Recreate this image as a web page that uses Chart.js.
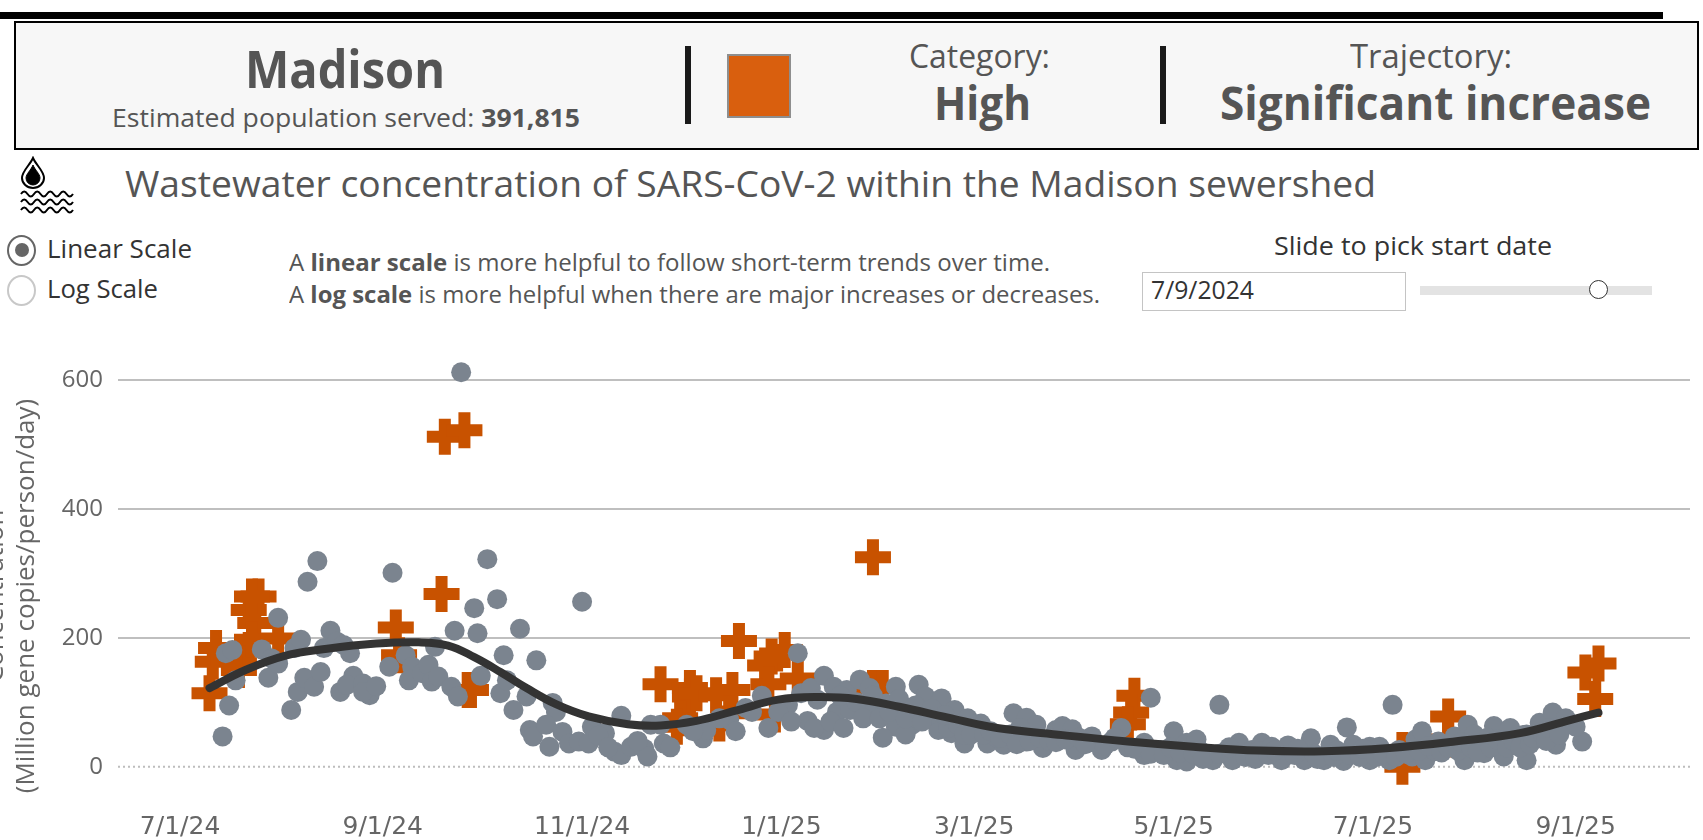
<!DOCTYPE html>
<html><head><meta charset="utf-8">
<script src="https://cdn.jsdelivr.net/npm/chart.js@4"></script>
<style>
html,body{margin:0;padding:0;background:#fff;width:1703px;height:840px;overflow:hidden;position:relative;font-family:"Open Sans",sans-serif}
.b{position:absolute}
.t{position:absolute;white-space:nowrap;line-height:1;transform-origin:0 0;color:#555}
canvas{position:absolute;left:-60px;top:340px}
</style></head><body>
<div class="b" style="left:0;top:12px;width:1663px;height:7px;background:#000"></div>
<div class="b" style="left:14px;top:21px;width:1681px;height:125px;background:#f7f7f7;border:2px solid #000"></div>
<div class="b" style="left:685px;top:46px;width:6px;height:78px;background:#1a1a1a"></div>
<div class="b" style="left:1160px;top:46px;width:6px;height:78px;background:#1a1a1a"></div>
<div class="b" style="left:727px;top:54px;width:60px;height:60px;background:#d95f0e;border:2px solid #8e8e8e"></div>
<div class="t" data-x="245" data-y="88" data-s="52" data-w="200" style="font-weight:700">Madison</div>
<div class="t" data-x="112" data-y="127" data-s="25" data-w="468">Estimated population served: <b>391,815</b></div>
<div class="t" data-x="909" data-y="68" data-s="32" data-w="141">Category:</div>
<div class="t" data-x="934" data-y="121" data-s="47" data-w="97" style="font-weight:700">High</div>
<div class="t" data-x="1350" data-y="68" data-s="32" data-w="162">Trajectory:</div>
<div class="t" data-x="1220" data-y="121" data-s="47" data-w="431" style="font-weight:700">Significant increase</div>
<div class="t" data-x="125" data-y="197" data-s="37" data-w="1251">Wastewater concentration of SARS-CoV-2 within the Madison sewershed</div>
<svg class="b" style="left:18px;top:156px" width="60" height="60" viewBox="0 0 60 60" fill="none" stroke="#000">
<path d="M15 2 C12 9 4 15 4 22 A11 10 0 0 0 26 22 C26 15 18 9 15 2Z" stroke-width="2"/>
<path d="M15 9 C13 14 8 18 8 22 A7 7 0 0 0 22 22 C22 18 17 14 15 9Z" fill="#000"/>
<path d="M3 38 q3.2 -5 6.5 0 t6.5 0 t6.5 0 t6.5 0 t6.5 0 t6.5 0 t6.5 0 t6.5 0" stroke-width="2"/>
<path d="M3 46 q3.2 -5 6.5 0 t6.5 0 t6.5 0 t6.5 0 t6.5 0 t6.5 0 t6.5 0 t6.5 0" stroke-width="2"/>
<path d="M3 54 q3.2 -5 6.5 0 t6.5 0 t6.5 0 t6.5 0 t6.5 0 t6.5 0 t6.5 0 t6.5 0" stroke-width="2"/>
</svg>
<div class="b" style="left:7px;top:235px;width:25px;height:27px;border:2.5px solid #666;border-radius:50%"></div>
<div class="b" style="left:15px;top:243px;width:14px;height:14px;background:#666;border-radius:50%"></div>
<div class="b" style="left:7px;top:275px;width:25px;height:27px;border:2.5px solid #c8c8c8;border-radius:50%"></div>
<div class="t" data-x="47" data-y="258" data-s="26" data-w="145" style="color:#333">Linear Scale</div>
<div class="t" data-x="47" data-y="298" data-s="26" data-w="111" style="color:#333">Log Scale</div>
<div class="t" data-x="289" data-y="271" data-s="23" data-w="761">A <b>linear scale</b> is more helpful to follow short-term trends over time.</div>
<div class="t" data-x="289" data-y="303" data-s="23" data-w="811">A <b>log scale</b> is more helpful when there are major increases or decreases.</div>
<div class="t" data-x="1274" data-y="255" data-s="25" data-w="278" style="color:#333">Slide to pick start date</div>
<div class="b" style="left:1142px;top:272px;width:262px;height:37px;border:1.5px solid #c4c4c4;background:#fff"></div>
<div class="t" data-x="1151" data-y="299" data-s="25" data-w="103" style="color:#333">7/9/2024</div>
<div class="b" style="left:1420px;top:286px;width:232px;height:9px;background:#e3e3e3"></div>
<div class="b" style="left:1589px;top:280px;width:17px;height:17px;background:#fff;border:1.5px solid #333;border-radius:50%"></div>

<canvas id="c" width="1780" height="502"></canvas>
<script>
// Days counted from 7/1/24
const tickDays = [0,62,123,184,243,304,365,427];
const tickLabels = ["7/1/24","9/1/24","11/1/24","1/1/25","3/1/25","5/1/25","7/1/25","9/1/25"];
const yTicks = [0,200,400,600];
const axisExtent = [-19,462];

const grayDays = [13,15,14,16,17,25,27,28,30,30,34,36,35,37,38,41,43,39,42,44,46,49,48,50,52,53,51,56,58,56,60,64,65,69,71,70,74,76,77,79,78,84,83,85,91,90,94,97,92,99,98,100,104,109,106,102,86,
114,115,107,108,112,113,117,119,122,125,126,123,130,135,133,135,138,142,143,144,147,148,155,160,161,168,173,175,178,186,189,192,197,190,193,195,197,200,201,204,205,208,211,213,216,219,219,221,224,226,228,231,233,232,237,236,240,241,245,247,252,
255,259,262,259,264,268,270,273,274,279,282,285,288,295,295,297,300,304,305,308,311,308,316,318,320,322,324,328,331,330,334,337,339,344,346,350,352,356,357,359,364,364,367,370,371,373,377,378,380,381,385,384,390,393,394,399,398,402,405,407,412,412,416,420,424,429,427,421,411,
128,131,140,150,157,165,170,180,183,187,194,199,203,210,215,222,229,235,243,250,
202,207,209,212,214,217,220,222,225,227,230,234,238,240,242,246,248,251,254,256,257,260,263,266,268,271,275,277,283,286,290,292,
297,301,303,306,310,312,313,318,321,326,329,333,335,341,342,347,348,353,354,358,361,362,366,368,372,375,379,382,386,388,391,392,395,396,397,400,401,403,406,408,410,413,414,417,418,419,422];
const grayValues = [47,95,176,181,134,182,138,168,160,231,88,116,184,197,138,124,147,287,319,184,211,116,194,189,176,141,127,129,111,116,125,155,301,173,155,134,145,158,132,140,186,211,124,109,207,246,322,260,141,173,114,134,214,165,109,88,612,
99,85,57,47,65,31,54,36,39,36,62,256,52,79,23,18,31,28,16,65,65,36,65,44,57,73,91,85,110,96,176,71,57,114,122,104,141,124,85,119,88,135,122,83,98,124,62,93,65,127,109,73,106,57,88,52,36,75,67,36,34,
83,76,65,39,29,57,63,58,26,47,26,39,60,18,37,107,26,55,10,37,42,8,10,96,24,10,37,26,37,24,31,10,33,10,44,10,34,9,61,34,10,31,31,10,96,26,16,42,55,10,39,24,47,10,65,21,42,63,16,60,10,50,68,84,75,39,62,34,49,
48,30,40,30,55,75,55,60,85,70,60,70,60,95,45,50,80,60,65,45,
110,100,75,110,75,85,105,75,95,70,90,80,65,50,50,50,55,45,50,35,60,40,45,40,38,42,45,35,33,45,30,28,
20,18,30,22,20,25,12,20,30,15,12,18,25,18,28,20,12,15,25,18,15,28,15,20,15,20,25,32,22,30,25,38,30,50,22,45,30,42,30,40,30,35,45,50,40,60,50];

const orangeDays = [9,10,11,18,18,21,24,23,22,21,22,30,66,67,80,89,88,81,87,
147,156,156,153,152,158,164,169,165,168,171,179,181,185,180,189,182,212,212,215,
292,291,290,388,388,374,374,434,430,433];
const orangeValues = [114,163,184,160,150,243,264,223,264,181,197,199,216,173,268,119,119,512,522,
128,122,109,75,62,114,111,119,67,83,195,157,171,181,128,137,81,325,122,122,
110,84,66,78,42,26,0,160,146,105];

const lineDays = [9,20,32,45,60,73,82,90,98,106,115,125,137,147,158,170,183,195,207,220,235,250,270,290,310,330,350,370,390,410,425,434];
const lineValues = [122,150,172,183,191,193,188,170,147,122,97,78,66,64,71,87,104,108,105,93,76,60,49,39,31,25,24,29,39,52,72,84];

const GRAY = "#7b848f", ORANGE = "#c85200", LINE = "#333333";

document.querySelectorAll(".t").forEach(e=>{
  const s=+e.dataset.s;
  e.style.fontSize=s+"px";
  e.style.left=e.dataset.x+"px";
  e.style.top=(+e.dataset.y-0.888*s)+"px";
  e.style.transform="scaleX("+(+e.dataset.w/e.getBoundingClientRect().width)+")";
});

const toXY=(xs,ys)=>xs.map((x,i)=>({x,y:ys[i]}));
new Chart(document.getElementById("c"),{
  type:"scatter",
  data:{datasets:[
    {label:"Smoothed trend",type:"line",data:toXY(lineDays,lineValues),borderColor:LINE,borderWidth:8,pointRadius:0,tension:0.4,borderCapStyle:"round",order:0,clip:false},
    {label:"Samples",data:toXY(grayDays,grayValues),backgroundColor:GRAY,borderWidth:0,pointRadius:10,order:1,clip:false},
    {label:"High samples",data:toXY(orangeDays,orangeValues),pointStyle:"cross",pointRadius:18,pointBorderWidth:12,borderColor:ORANGE,pointBorderColor:ORANGE,backgroundColor:ORANGE,order:2,clip:false},
    {label:"Zero",type:"line",data:toXY(axisExtent,[0,0]),borderColor:"#bdbdbd",borderWidth:2,borderDash:[2,3],pointRadius:0,order:3}
  ]},
  options:{
    responsive:false,animation:false,
    layout:{padding:{left:0,right:0,top:40,bottom:0}},
    plugins:{legend:{display:false},tooltip:{enabled:false}},
    scales:{
      x:{type:"linear",min:axisExtent[0],max:axisExtent[1],
        afterBuildTicks:a=>{a.ticks=tickDays.map(v=>({value:v}))},
        afterFit:a=>{a.height=28},
        grid:{display:false,drawTicks:false},border:{display:false},
        ticks:{autoSkip:false,maxRotation:0,padding:0,color:"#666",font:{family:"DejaVu Sans",size:25},
          callback:v=>tickLabels[tickDays.indexOf(v)]}},
      y:{type:"linear",min:-70.3,max:600,
        afterBuildTicks:a=>{a.ticks=yTicks.map(v=>({value:v}))},
        afterFit:a=>{a.width=178},
        grid:{color:c=>c.tick&&c.tick.value===0?"transparent":"#bfbfbf",lineWidth:2,drawTicks:false},border:{display:false},
        ticks:{padding:15,color:"#666",font:{family:"Open Sans",size:24}},
        title:{display:true,text:["Concentration","(Million gene copies/person/day)"],color:"#666",font:{family:"Open Sans",size:26,lineHeight:1.19},padding:{top:40,bottom:0}}}
    }
  }
});
</script>
</body></html>
